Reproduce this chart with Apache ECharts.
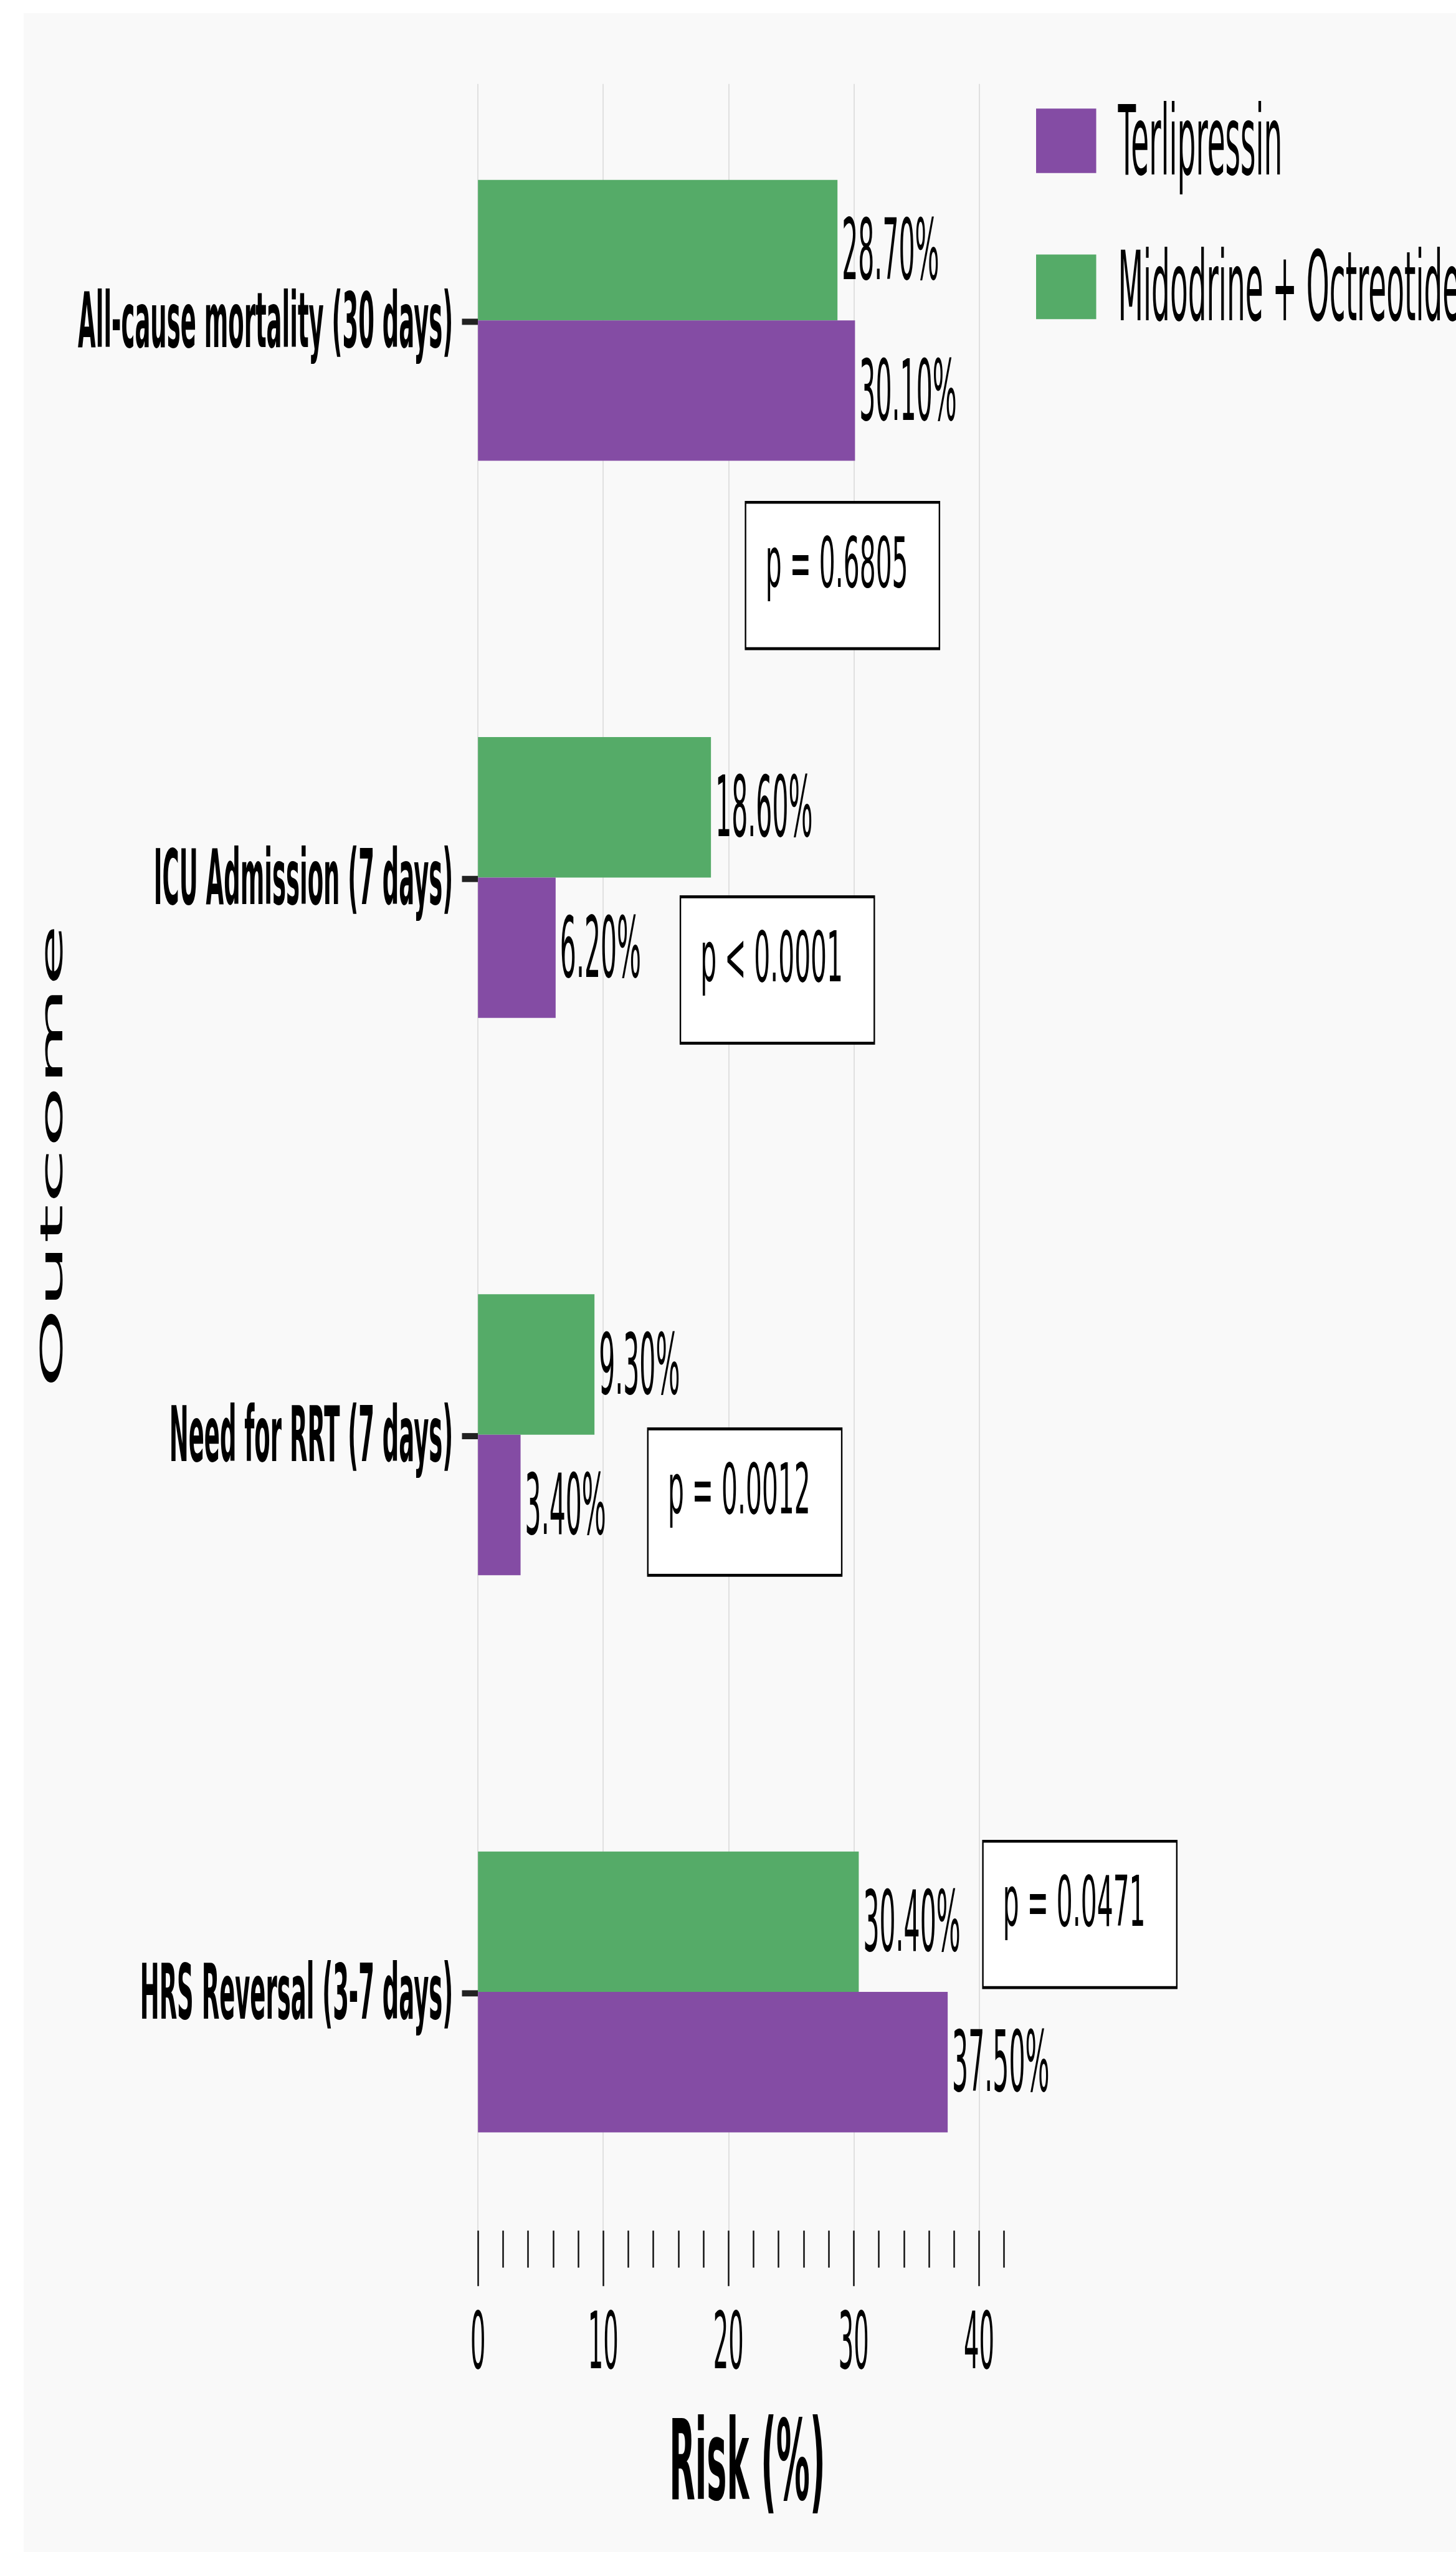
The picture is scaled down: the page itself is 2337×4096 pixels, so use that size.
<!DOCTYPE html>
<html>
<head>
<meta charset="utf-8">
<title>Outcomes: Terlipressin vs Midodrine + Octreotide</title>
<script src="https://cdn.jsdelivr.net/npm/echarts@6/dist/echarts.min.js"></script>
<style>
  html, body { margin: 0; padding: 0; background: #fff; overflow: hidden; }
  #bg { position: absolute; left: 38px; top: 21px; right: 0; bottom: 0; background: #f9f9f9; }
  #main { position: absolute; left: 0; top: 0; width: 2337px; transform-origin: 0 0; }
</style>
</head>
<body>
<div id="bg"></div>
<div id="main"></div>
<script>
// the source figure was stretched tall, so draw it flat and scale it up in y
const STRETCH = 3.3;

const outcomes = ['All-cause mortality (30 days)', 'ICU Admission (7 days)', 'Need for RRT (7 days)', 'HRS Reversal (3-7 days)'];
const terlipressin = [30.1, 6.2, 3.4, 37.5];
const midoOctreo = [28.7, 18.6, 9.3, 30.4];
const pLabels = ['p = 0.6805', 'p < 0.0001', 'p = 0.0012', 'p = 0.0471'];
const xTicks = [0, 10, 20, 30, 40];

// p-value box placement: left edge in Risk units, top as a fraction of a category band
const pBoxX = [21.3, 16.1, 13.5, 40.25];
const pBoxDy = [0.324, 0.032, -0.013, -0.273];
const BOX_W = 15.6;   // Risk units
const BOX_H = 72.6;   // px before stretch

const PURPLE = '#844ca4';
const GREEN = '#55ab68';
const FONT = '"DejaVu Sans", sans-serif';

const el = document.getElementById('main');
el.style.height = (4096 / STRETCH) + 'px';
el.style.transform = 'scaleY(' + STRETCH + ')';
const chart = echarts.init(el, null, { renderer: 'svg' });

function renderPBox(params, api) {
    const i = params.dataIndex;
    const corner = api.coord([api.value(0), api.value(1)]);
    const band = api.size([0, 1])[1];
    const w = api.size([BOX_W, 0])[0];
    const x = corner[0];
    const y = corner[1] + pBoxDy[i] * band;
    return {
        type: 'group',
        children: [
            { type: 'rect', shape: { x: x, y: y, width: w, height: BOX_H }, style: { fill: '#000' } },
            { type: 'rect', shape: { x: x + 2.4, y: y + 1.4, width: w - 4.8, height: BOX_H - 2.8 }, style: { fill: '#fff' } },
            {
                type: 'text',
                x: x + 33.4,
                y: y + 30.2,
                scaleX: 1.2,   // box text is set wider than DejaVu
                style: {
                    text: pLabels[i], x: 0, y: 0,
                    fill: '#000', fontSize: 34, fontFamily: FONT, verticalAlign: 'middle'
                }
            }
        ]
    };
}

const barLabel = {
    show: true,
    position: 'right',
    distance: 7,
    fontSize: 41,
    color: '#000',
    formatter: p => p.value.toFixed(2) + '%'
};

const option = {
    animation: false,
    textStyle: { fontFamily: FONT, color: '#000' },
    legend: {
        data: ['Terlipressin', 'Midodrine + Octreotide'],
        orient: 'vertical',
        left: 1658,
        top: 40,
        icon: 'rect',
        itemWidth: 96.5,
        itemHeight: 31.4,
        itemGap: 24,
        selectedMode: false,
        textStyle: { fontSize: 47, color: '#000', padding: [0, 0, 0, 30] }
    },
    grid: [
        { left: 767.2, width: 864.5, top: 20.3, height: 1084, outerBoundsMode: 'none' },
        { left: 767.2, width: 864.5, top: 40.8, height: 1044.1, outerBoundsMode: 'none' }
    ],
    xAxis: [
        { gridIndex: 0, type: 'value', min: 0, max: 43, show: false },
        {
            gridIndex: 1, type: 'value', min: 0, max: 43, interval: 10,
            axisLine: { show: false },
            axisTick: { show: true, length: 27, customValues: xTicks, lineStyle: { color: '#111', width: 2.5 } },
            minorTick: { show: true, splitNumber: 5, length: 18, lineStyle: { color: '#111', width: 2.5 } },
            axisLabel: { customValues: xTicks, margin: 34, fontSize: 38.5, color: '#000' },
            splitLine: { show: true, lineStyle: { color: '#e0e0e0', width: 2 } },
            name: 'Risk (%)',
            nameLocation: 'middle',
            nameGap: 85,
            nameTextStyle: { fontSize: 54, fontWeight: 'bold', color: '#000' }
        }
    ],
    yAxis: [
        {
            gridIndex: 0, type: 'category', data: outcomes, inverse: true,
            axisLine: { show: false },
            axisTick: { show: true, alignWithLabel: true, length: 25.7, lineStyle: { color: '#222', width: 3 } },
            axisLabel: { margin: 40, fontSize: 37, fontWeight: 'bold', color: '#000' },
            splitLine: { show: false },
            name: 'Outcome',
            nameLocation: 'middle',
            nameRotate: 90,
            nameGap: 659,
            nameTextStyle: { fontSize: 49.5, color: '#000' }
        },
        { gridIndex: 1, type: 'value', min: 0, max: 1, show: false }
    ],
    series: [
        {
            name: 'Midodrine + Octreotide', type: 'bar', xAxisIndex: 0, yAxisIndex: 0,
            data: midoOctreo, barWidth: 68.3, barGap: '0%',
            itemStyle: { color: GREEN }, label: barLabel
        },
        {
            name: 'Terlipressin', type: 'bar', xAxisIndex: 0, yAxisIndex: 0,
            data: terlipressin, barWidth: 68.3, barGap: '0%',
            itemStyle: { color: PURPLE }, label: barLabel
        },
        {
            type: 'custom', xAxisIndex: 0, yAxisIndex: 0,
            data: pBoxX.map((x, i) => [x, i]),
            renderItem: renderPBox,
            clip: false, silent: true, z: 5
        }
    ]
};
chart.setOption(option);
</script>
</body>
</html>
